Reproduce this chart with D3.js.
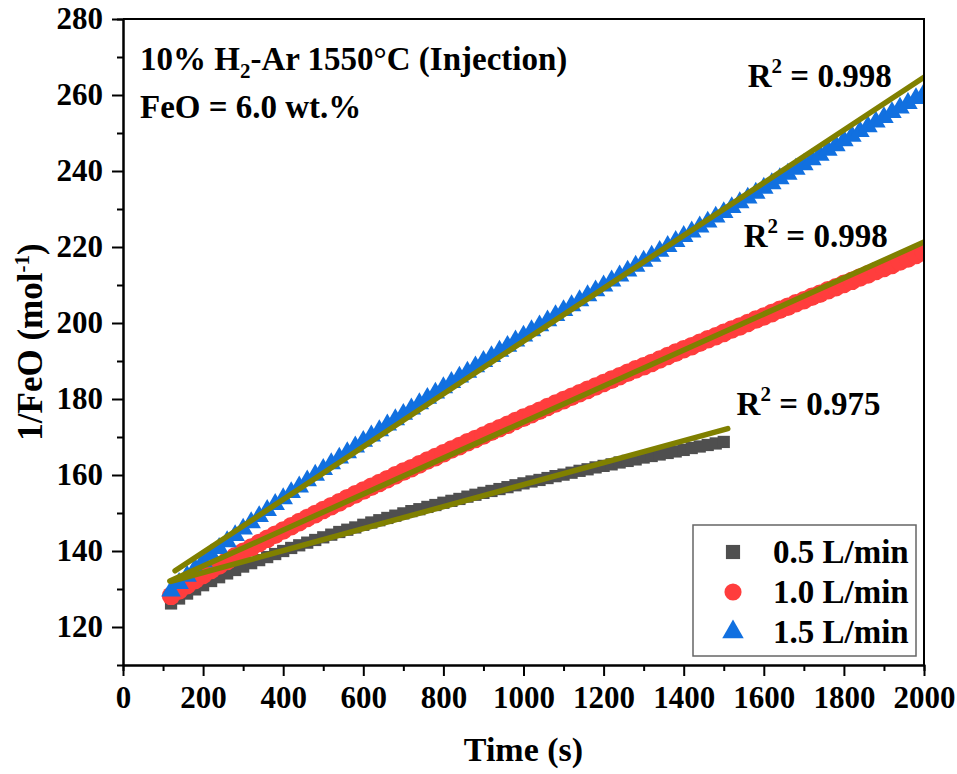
<head>
  <title>1/FeO vs time</title>
  <style>
    body { margin: 0; background: white; }
    svg text {
      font-family: "Liberation Serif", "Times New Roman", serif;
      font-weight: bold;
      fill: black;
    }
    .axis path, .axis line { stroke: black; stroke-width: 2; }
  </style>
</head>
<body>
  <div id="chart"></div>
  <script src="https://cdn.jsdelivr.net/npm/d3@7"></script>
  <script>
    // sampling times (s), shared by all series
    const times = [
      120,140,160,180,200,220,240,260,280,300,320,340,360,380,400,420,440,460,480,500,
      520,540,560,580,600,620,640,660,680,700,720,740,760,780,800,820,840,860,880,900,
      920,940,960,980,1000,1020,1040,1060,1080,1100,1120,1140,1160,1180,1200,1220,1240,1260,1280,1300,
      1320,1340,1360,1380,1400,1420,1440,1460,1480,1500,1520,1540,1560,1580,1600,1620,1640,1660,1680,1700,
      1720,1740,1760,1780,1800,1820,1840,1860,1880,1900,1920,1940,1960,1980,2000
    ];

    // 1/FeO (mol^-1)
    const flow05 = [
      126.2,127.5,128.8,129.9,131.0,132.1,133.1,134.1,135.0,135.9,
      136.8,137.6,138.4,139.2,140.0,140.8,141.5,142.2,142.9,143.6,
      144.3,145.0,145.6,146.2,146.9,147.5,148.1,148.7,149.3,149.9,
      150.5,151.0,151.6,152.1,152.7,153.2,153.7,154.3,154.8,155.3,
      155.8,156.3,156.8,157.3,157.8,158.3,158.7,159.2,159.7,160.1,
      160.6,161.1,161.5,162.0,162.4,162.8,163.3,163.7,164.1,164.6,
      165.0,165.4,165.8,166.2,166.6,167.1,167.5,167.9,168.3,168.7
    ];
    const flow10 = [
      128.2,129.6,131.0,132.4,133.7,135.0,136.2,137.4,138.6,139.8,
      140.9,142.1,143.2,144.3,145.4,146.5,147.6,148.7,149.7,150.8,
      151.8,152.8,153.9,154.9,155.9,156.9,157.9,158.9,159.9,160.9,
      161.8,162.8,163.8,164.7,165.7,166.7,167.6,168.6,169.5,170.4,
      171.4,172.3,173.2,174.2,175.1,176.0,176.9,177.9,178.8,179.7,
      180.6,181.5,182.4,183.3,184.2,185.1,186.0,186.9,187.8,188.6,
      189.5,190.4,191.3,192.2,193.1,193.9,194.8,195.7,196.5,197.4,
      198.3,199.1,200.0,200.9,201.7,202.6,203.5,204.3,205.2,206.0,
      206.9,207.7,208.6,209.4,210.3,211.1,212.0,212.8,213.7,214.5,
      215.3,216.2,217.0,217.9,218.7
    ];
    const flow15 = [
      129.5,131.5,133.4,135.3,137.2,139.0,140.7,142.5,144.1,145.8,
      147.5,149.1,150.7,152.3,153.8,155.4,156.9,158.5,160.0,161.5,
      163.0,164.5,165.9,167.4,168.9,170.3,171.7,173.2,174.6,176.0,
      177.4,178.8,180.2,181.6,183.0,184.4,185.8,187.1,188.5,189.9,
      191.2,192.6,193.9,195.3,196.6,198.0,199.3,200.6,202.0,203.3,
      204.6,205.9,207.2,208.5,209.8,211.1,212.4,213.7,215.0,216.3,
      217.6,218.9,220.2,221.5,222.8,224.0,225.3,226.6,227.9,229.1,
      230.4,231.7,232.9,234.2,235.5,236.7,238.0,239.2,240.5,241.7,
      243.0,244.2,245.5,246.7,248.0,249.2,250.4,251.7,252.9,254.1,
      255.4,256.6,257.8,259.1,260.3
    ];

    const seriesNames = ["0.5 L/min", "1.0 L/min", "1.5 L/min"];

    // linear fits: v = intercept + slope * t, drawn over [fitFrom, fitTo]
    const fitSlope = [0.02892, 0.04737, 0.06946];
    const fitIntercept = [128.53, 126.56, 125.77];
    const fitFrom = [120, 117, 130];
    const fitTo = [1510, 2000, 2000];

    // R^2 labels, anchored in data coordinates
    const r2Text = ["0.975", "0.998", "0.998"];
    const r2AtTime = [1532, 1550, 1560];
    const r2AtValue = [175.9, 219.9, 262.1];

    const xMajor = [0,200,400,600,800,1000,1200,1400,1600,1800,2000];
    const xMinor = [100,300,500,700,900,1100,1300,1500,1700,1900];
    const yMajor = [120,140,160,180,200,220,240,260,280];
    const yMinor = [130,150,170,190,210,230,250,270];

    const W = 957, H = 774;
    const mLeft = 123, mRight = 924, mTop = 19, mBottom = 665;
    const colors = ["#4f4f4f", "#ff3d3d", "#1170e0"];
    const fitColor = "#808000";

    const svg = d3.select("#chart").append("svg")
      .attr("width", W).attr("height", H);

    const x = d3.scaleLinear().domain([0, 2000]).range([mLeft, mRight]);
    const y = d3.scaleLinear().domain([110, 280]).range([mBottom, mTop]);

    svg.append("clipPath").attr("id", "plotclip")
      .append("rect").attr("x", mLeft).attr("y", mTop)
      .attr("width", mRight - mLeft).attr("height", mBottom - mTop);

    // markers
    const plot = svg.append("g").attr("clip-path", "url(#plotclip)");
    const allSeries = [flow05, flow10, flow15];
    const symbols = [d3.symbolSquare, d3.symbolCircle, d3.symbolTriangle];
    const symSize = [150, 270, 165];

    allSeries.forEach((vals, i) => {
      const pts = vals.map((v, k) => [times[k], v]);
      plot.append("g").selectAll("path")
        .data(pts).enter().append("path")
          .attr("d", d3.symbol(symbols[i], symSize[i]))
          .attr("transform", d => `translate(${x(d[0])},${y(d[1])})`)
          .attr("fill", colors[i]);
    });

    // fit lines
    const fitLine = d3.line().x(d => x(d[0])).y(d => y(d[1]));
    fitSlope.forEach((s, i) => {
      const ends = [fitFrom[i], fitTo[i]].map(t => [t, fitIntercept[i] + s * t]);
      plot.append("path")
        .attr("d", fitLine(ends))
        .attr("stroke", fitColor).attr("stroke-width", 5.5)
        .attr("stroke-linecap", "round").attr("fill", "none");
    });

    // axes
    svg.append("g").attr("class", "axis")
      .attr("transform", `translate(0,${mBottom})`)
      .call(d3.axisBottom(x).tickValues(xMinor).tickSize(6).tickFormat(""));
    svg.append("g").attr("class", "axis")
      .attr("transform", `translate(${mLeft},0)`)
      .call(d3.axisLeft(y).tickValues(yMinor).tickSize(6).tickFormat(""));

    const xAxis = svg.append("g").attr("class", "axis")
      .attr("transform", `translate(0,${mBottom})`)
      .call(d3.axisBottom(x).tickValues(xMajor).tickFormat(d3.format("d"))
        .tickSize(11).tickPadding(10).tickSizeOuter(0));
    const yAxis = svg.append("g").attr("class", "axis")
      .attr("transform", `translate(${mLeft},0)`)
      .call(d3.axisLeft(y).tickValues(yMajor).tickFormat(d3.format("d"))
        .tickSize(11).tickPadding(9).tickSizeOuter(0));
    [xAxis, yAxis].forEach(a => {
      a.attr("font-family", null).attr("font-size", null);
      a.selectAll("text").attr("font-size", 31);
    });

    // frame top/right
    svg.append("path")
      .attr("d", `M${mLeft},${mTop}H${mRight}V${mBottom}`)
      .attr("stroke", "black").attr("stroke-width", 2).attr("fill", "none");

    // axis titles
    svg.append("text")
      .attr("x", (mLeft + mRight) / 2).attr("y", 761)
      .attr("text-anchor", "middle").attr("font-size", 34)
      .text("Time (s)");

    const yt = svg.append("text")
      .attr("transform", `translate(42,${(mTop + mBottom) / 2}) rotate(-90)`)
      .attr("text-anchor", "middle").attr("font-size", 35);
    yt.append("tspan").text("1/FeO (mol");
    yt.append("tspan").attr("font-size", 21).attr("dy", -13).text("-1");
    yt.append("tspan").attr("dy", 13).text(")");

    // annotation
    const note = svg.append("text").attr("x", 140).attr("y", 70).attr("font-size", 33);
    note.append("tspan").text("10% H");
    note.append("tspan").attr("font-size", 21).attr("dy", 8).text("2");
    note.append("tspan").attr("dy", -8).text("-Ar 1550°C (Injection)");
    svg.append("text").attr("x", 140).attr("y", 118).attr("font-size", 33)
      .text("FeO = 6.0 wt.%");

    // R^2 labels
    r2Text.forEach((t, i) => {
      const lab = svg.append("text")
        .attr("x", x(r2AtTime[i])).attr("y", y(r2AtValue[i])).attr("font-size", 33);
      lab.append("tspan").text("R");
      lab.append("tspan").attr("font-size", 21).attr("dy", -14).text("2");
      lab.append("tspan").attr("dy", 14).text(" = " + t);
    });

    // legend
    const lg = svg.append("g");
    lg.append("rect").attr("x", 693).attr("y", 525).attr("width", 223).attr("height", 131)
      .attr("fill", "white").attr("stroke", "#666").attr("stroke-width", 1.5);
    const legSize = [200, 230, 200];
    seriesNames.forEach((n, i) => {
      const cy = 552 + i * 40;
      lg.append("path")
        .attr("d", d3.symbol(symbols[i], legSize[i]))
        .attr("transform", `translate(733,${cy})`)
        .attr("fill", colors[i]);
      lg.append("text").attr("x", 773).attr("y", cy + 11).attr("font-size", 33).text(n);
    });
  </script>
</body>
